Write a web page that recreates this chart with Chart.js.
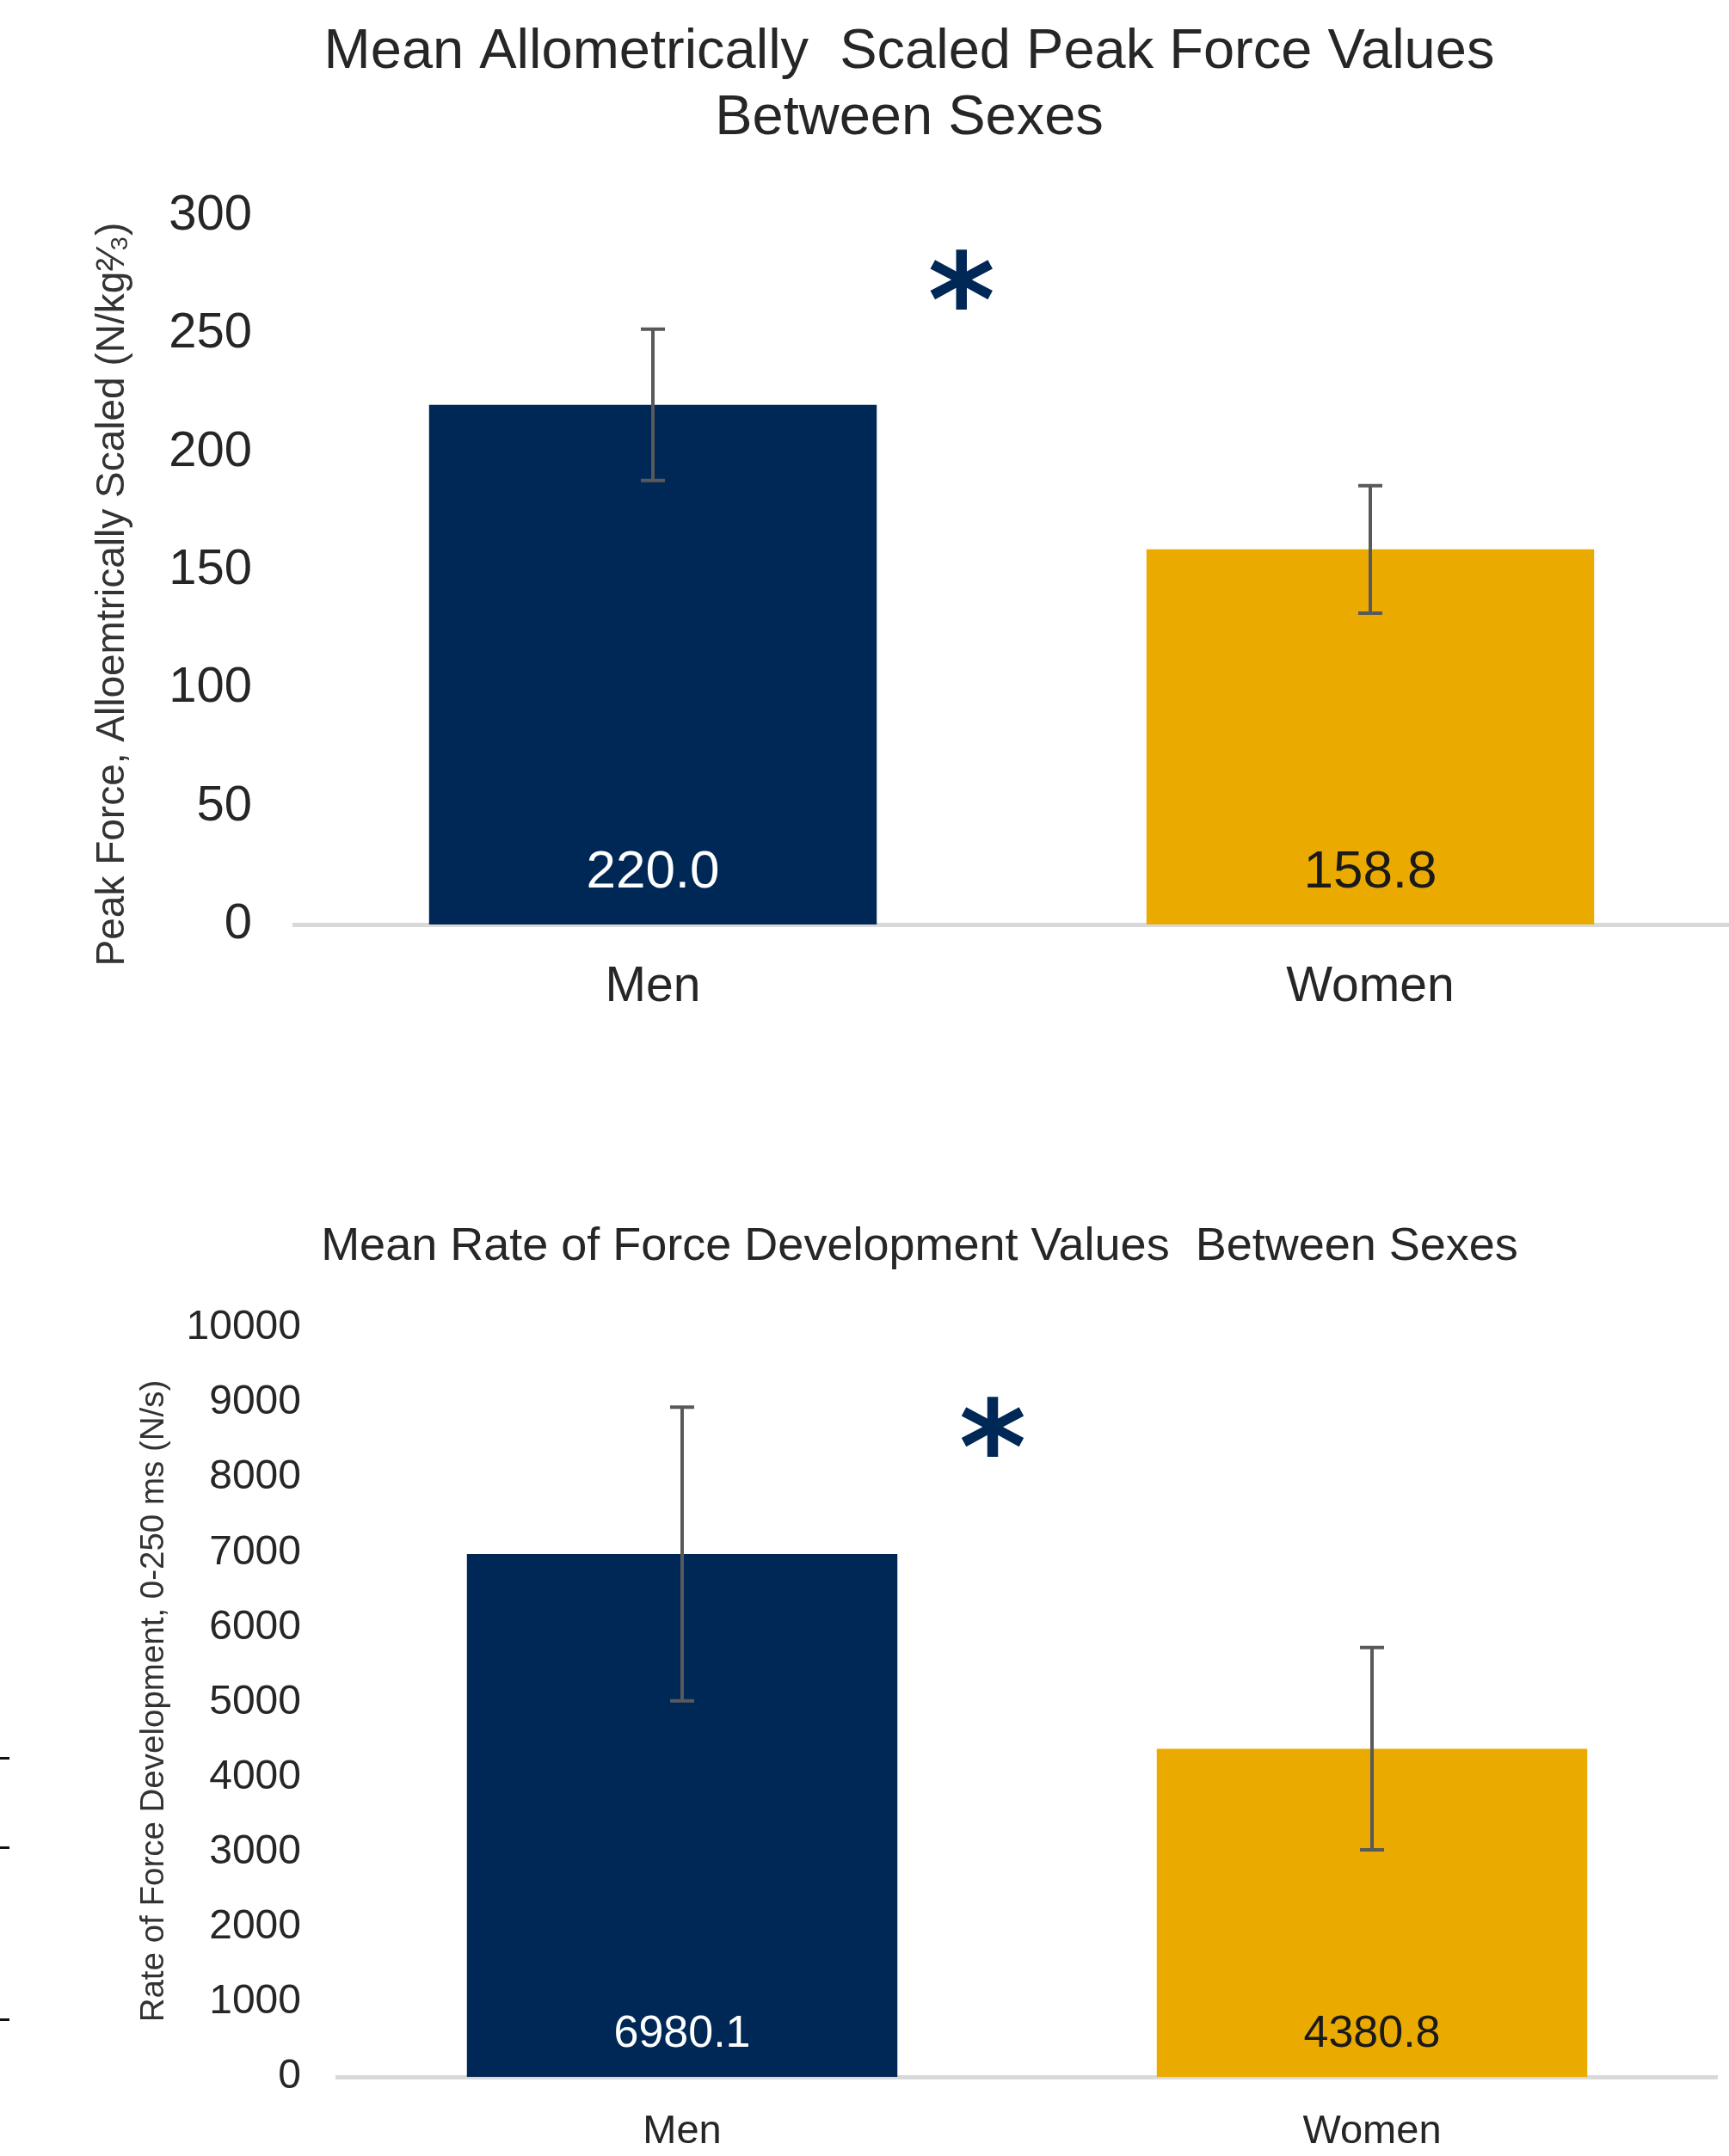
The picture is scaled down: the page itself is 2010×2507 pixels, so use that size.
<!DOCTYPE html>
<html>
<head>
<meta charset="utf-8">
<script src="https://cdn.jsdelivr.net/npm/chart.js@4.4.1/dist/chart.umd.min.js"></script>
<style>
  html, body { margin: 0; padding: 0; background: #fff; }
  body { width: 2010px; height: 2507px; position: relative; overflow: hidden; }
  canvas { position: absolute; left: 0; }
  #peakChart { top: 0; }
  #rfdChart { top: 1250px; }
  .edge-tick { position: absolute; left: 0; width: 11px; height: 3px; background: #111; }
</style>
</head>
<body>
<canvas id="peakChart" width="2010" height="1250"></canvas>
<canvas id="rfdChart" width="2010" height="1257"></canvas>
<div class="edge-tick" style="top:2043px"></div>
<div class="edge-tick" style="top:2147px"></div>
<div class="edge-tick" style="top:2347px"></div>

<script>
// --- data ---
const groups = ['Men', 'Women'];
const barColors = ['#002856', '#EAAA00'];
const valueColors = ['#ffffff', '#1a1a1a'];

const peakMeans = [220.0, 158.8];
const peakSD = [32, 27];
const peakMax = 300, peakStep = 50;

const rfdMeans = [6980.1, 4380.8];
const rfdSD = [1960, 1350];
const rfdMax = 10000, rfdStep = 1000;

// significance marker: [category position, value]
const peakStar = [0.43, 269];
const rfdStar = [0.45, 8550];

const FONT = '"Liberation Sans", Arial, sans-serif';
Chart.defaults.font.family = FONT;
Chart.defaults.color = '#262626';

// error bars, value labels, star and rotated axis title
const barExtras = {
  id: 'barExtras',
  afterDatasetsDraw(chart, args, opts) {
    const ctx = chart.ctx;
    const meta = chart.getDatasetMeta(0);
    const y = chart.scales.y, x = chart.scales.x;
    const vals = chart.data.datasets[0].data;
    ctx.save();
    meta.data.forEach((bar, i) => {
      const top = y.getPixelForValue(vals[i] + opts.sd[i]);
      const bot = y.getPixelForValue(vals[i] - opts.sd[i]);
      ctx.strokeStyle = '#595959';
      ctx.lineWidth = 4;
      ctx.beginPath();
      ctx.moveTo(bar.x, top); ctx.lineTo(bar.x, bot);
      ctx.moveTo(bar.x - 14, top); ctx.lineTo(bar.x + 14, top);
      ctx.moveTo(bar.x - 14, bot); ctx.lineTo(bar.x + 14, bot);
      ctx.stroke();

      ctx.fillStyle = valueColors[i];
      ctx.font = opts.labelSize + 'px ' + FONT;
      ctx.textAlign = 'center';
      ctx.textBaseline = 'middle';
      ctx.fillText(vals[i].toFixed(1), bar.x, y.getPixelForValue(0) - opts.labelLift);
    });

    ctx.fillStyle = '#002856';
    ctx.font = 'bold ' + opts.starSize + 'px "DejaVu Sans", sans-serif';
    ctx.textAlign = 'center';
    ctx.textBaseline = 'middle';
    ctx.fillText('*', x.getPixelForValue(opts.star[0]), y.getPixelForValue(opts.star[1]) + opts.starSize * 0.18);

    const t = opts.yTitle;
    ctx.translate(t.x, t.y);
    ctx.rotate(-Math.PI / 2);
    ctx.fillStyle = '#333333';
    ctx.font = t.size + 'px ' + FONT;
    ctx.fillText(t.text, 0, 0);
    ctx.restore();
  }
};

function makeChart(id, cfg) {
  return new Chart(document.getElementById(id), {
    type: 'bar',
    data: {
      labels: groups,
      datasets: [{ data: cfg.means, backgroundColor: barColors, borderWidth: 0,
                   barPercentage: 1, categoryPercentage: 0.624 }]
    },
    options: {
      responsive: false,
      animation: false,
      devicePixelRatio: 1,
      layout: { padding: { top: 0, right: cfg.padRight, bottom: 0, left: cfg.padLeft } },
      plugins: {
        legend: { display: false },
        tooltip: { enabled: false },
        title: {
          display: true,
          text: cfg.title,
          color: '#262626',
          font: { size: cfg.titleSize, weight: 'normal', lineHeight: cfg.titleLine / cfg.titleSize },
          padding: { top: cfg.titleTop, bottom: cfg.titleBottom }
        },
        barExtras: { sd: cfg.sd, labelSize: cfg.labelSize, labelLift: cfg.labelLift,
                     star: cfg.star, starSize: cfg.starSize, yTitle: cfg.yTitle }
      },
      scales: {
        x: {
          grid: { display: false },
          border: { display: true, color: '#d9d9d9', width: 5 },
          ticks: { color: '#262626', padding: cfg.catPad, font: { size: cfg.catSize, lineHeight: 1.2 } },
          afterFit(s) { s.height = cfg.xHeight; }
        },
        y: {
          min: 0, max: cfg.max,
          grid: { display: false, drawTicks: false },
          border: { display: false },
          ticks: { stepSize: cfg.step, color: '#262626', padding: cfg.tickPad,
                   font: { size: cfg.tickSize }, callback: v => String(v) },
          afterFit(s) { s.width = cfg.yWidth - cfg.padLeft; }
        }
      }
    },
    plugins: [barExtras]
  });
}

makeChart('peakChart', {
  means: peakMeans, sd: peakSD, max: peakMax, step: peakStep,
  title: ['Mean Allometrically  Scaled Peak Force Values', 'Between Sexes'],
  titleSize: 65, titleLine: 77, titleTop: 23, titleBottom: 74,
  yTitle: { text: 'Peak Force, Alloemtrically Scaled (N/kg\u00B2\u2044\u2083)', x: 131, y: 691, size: 46 },
  tickSize: 58, tickPad: 49, yWidth: 342, padLeft: 104, padRight: 0,
  catSize: 57, catPad: 31, xHeight: 175,
  labelSize: 62, labelLift: 60,
  star: peakStar, starSize: 150
});

makeChart('rfdChart', {
  means: rfdMeans, sd: rfdSD, max: rfdMax, step: rfdStep,
  title: 'Mean Rate of Force Development Values  Between Sexes',
  titleSize: 54, titleLine: 65, titleTop: 168, titleBottom: 61,
  yTitle: { text: 'Rate of Force Development, 0-250 ms (N/s)', x: 179, y: 728, size: 38.5 },
  tickSize: 48, tickPad: 42, yWidth: 392, padLeft: 142, padRight: 14,
  catSize: 47, catPad: 28, xHeight: 92,
  labelSize: 52, labelLift: 49,
  star: rfdStar, starSize: 150
});
</script>
</body>
</html>
